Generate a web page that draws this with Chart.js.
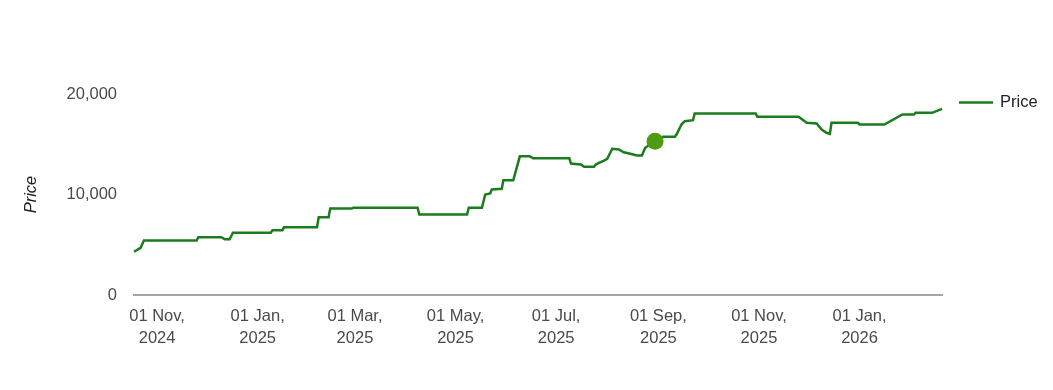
<!DOCTYPE html>
<html>
<head>
<meta charset="utf-8">
<title>Price</title>
<script src="https://cdn.jsdelivr.net/npm/chart.js@4.4.1/dist/chart.umd.min.js"></script>
<style>
  html, body { margin: 0; padding: 0; background: #fff; }
  #wrap { width: 1053px; height: 390px; position: relative; }
</style>
</head>
<body>
<div id="wrap"><canvas id="priceChart"></canvas></div>
<script>
// price history
const dates = [
  '2024-10-18', '2024-10-22', '2024-10-24', '2024-11-25', '2024-11-26', '2024-12-10',
  '2024-12-12', '2024-12-15', '2024-12-17', '2025-01-09', '2025-01-10', '2025-01-16',
  '2025-01-17', '2025-02-06', '2025-02-07', '2025-02-13', '2025-02-14', '2025-02-27',
  '2025-02-28', '2025-04-08', '2025-04-09', '2025-05-08', '2025-05-09', '2025-05-17',
  '2025-05-19', '2025-05-22', '2025-05-23', '2025-05-29', '2025-05-30', '2025-06-05',
  '2025-06-09', '2025-06-15', '2025-06-17', '2025-07-09', '2025-07-10', '2025-07-16',
  '2025-07-18', '2025-07-24', '2025-07-25', '2025-07-27', '2025-07-30', '2025-08-01',
  '2025-08-04', '2025-08-08', '2025-08-11', '2025-08-15', '2025-08-19', '2025-08-22',
  '2025-08-24', '2025-08-30', '2025-09-04', '2025-09-11', '2025-09-12', '2025-09-15',
  '2025-09-17', '2025-09-22', '2025-09-23', '2025-10-30', '2025-10-31', '2025-11-25',
  '2025-11-30', '2025-12-06', '2025-12-09', '2025-12-12', '2025-12-14', '2025-12-15',
  '2025-12-31', '2026-01-01', '2026-01-16', '2026-01-27', '2026-02-03', '2026-02-04',
  '2026-02-14', '2026-02-20'
];
const prices = [
  4300, 4700, 5420, 5420, 5750, 5750,
  5550, 5550, 6190, 6190, 6450, 6450,
  6750, 6750, 7740, 7740, 8600, 8600,
  8680, 8680, 8000, 8000, 8680, 8680,
  10000, 10100, 10500, 10560, 11420, 11420,
  13800, 13800, 13600, 13600, 13080, 12980,
  12750, 12750, 12980, 13150, 13380, 13550,
  14550, 14480, 14200, 14050, 13880, 13880,
  14650, 15300, 15740, 15740, 15970, 16960,
  17290, 17390, 18060, 18060, 17730, 17730,
  17130, 17060, 16470, 16140, 16040, 17130,
  17130, 16960, 16960, 17960, 17960, 18130,
  18130, 18520
];
const highlightDate = '2025-08-30';

const tickDates = ['2024-11-01', '2025-01-01', '2025-03-01', '2025-05-01',
                   '2025-07-01', '2025-09-01', '2025-11-01', '2026-01-01'];
const tickLabels = [
  ['01 Nov,', '2024'], ['01 Jan,', '2025'], ['01 Mar,', '2025'], ['01 May,', '2025'],
  ['01 Jul,', '2025'], ['01 Sep,', '2025'], ['01 Nov,', '2025'], ['01 Jan,', '2026']
];
const yTicks = [0, 10000, 20000];

function toTime(s) {
  let p = s.split('-');
  return Date.UTC(Number(p[0]), Number(p[1]) - 1, Number(p[2]));
}

const points = dates.map((d, i) => ({ x: toTime(d), y: prices[i] }));

Chart.defaults.font.family = '"Liberation Sans", Arial, sans-serif';
Chart.defaults.font.size = 16.5;

// simple legend at the right: short line + label
const legendLine = {
  id: 'legendLine',
  afterDraw(chart) {
    const ds = chart.data.datasets[0];
    const ctx = chart.ctx;
    const x = chart.chartArea.right + 17;
    const y = chart.chartArea.top + 8.5;
    ctx.save();
    ctx.strokeStyle = ds.borderColor;
    ctx.lineWidth = 2.5;
    ctx.beginPath();
    ctx.moveTo(x, y);
    ctx.lineTo(x + 34, y);
    ctx.stroke();
    ctx.fillStyle = '#222';
    ctx.font = '16.5px "Liberation Sans", Arial, sans-serif';
    ctx.textBaseline = 'middle';
    ctx.fillText(ds.label, x + 41, y);
    ctx.restore();
  }
};

new Chart(document.getElementById('priceChart'), {
  type: 'line',
  data: {
    datasets: [{
      label: 'Price',
      data: points,
      borderColor: '#1b7c1b',
      borderWidth: 2.5,
      tension: 0,
      fill: false,
      clip: false,
      pointRadius: ctx => dates[ctx.dataIndex] === highlightDate ? 8.5 : 0,
      pointHoverRadius: ctx => dates[ctx.dataIndex] === highlightDate ? 8.5 : 0,
      pointBackgroundColor: '#4f9b12',
      pointBorderColor: '#4f9b12',
      pointBorderWidth: 0
    }]
  },
  options: {
    responsive: true,
    maintainAspectRatio: false,
    animation: false,
    layout: { padding: { top: 94, right: 111, left: 0, bottom: 0 } },
    plugins: {
      legend: { display: false },
      tooltip: { enabled: false }
    },
    scales: {
      x: {
        type: 'linear',
        min: toTime(dates[0]),
        max: toTime(dates[dates.length - 1]),
        afterBuildTicks: scale => {
          scale.ticks = tickDates.map(d => ({ value: toTime(d) }));
        },
        afterFit: scale => { scale.height = 95; },
        grid: { display: false, drawTicks: false },
        border: { display: true, color: '#a3a3a3', width: 2 },
        ticks: {
          autoSkip: false,
          maxRotation: 0,
          padding: 11,
          color: '#4a4a4a',
          font: { size: 16.5, lineHeight: 1.3 },
          callback: (value, index) => tickLabels[index]
        }
      },
      y: {
        min: 0,
        max: 20000,
        afterBuildTicks: scale => {
          scale.ticks = yTicks.map(v => ({ value: v }));
        },
        afterFit: scale => { scale.width = 134; },
        grid: { display: false, drawTicks: false },
        border: { display: false },
        ticks: {
          padding: 17,
          color: '#4a4a4a',
          callback: value => value.toLocaleString('en-US')
        },
        title: {
          display: true,
          text: 'Price',
          color: '#222',
          padding: { top: 22, bottom: 0 },
          font: { size: 16.5, style: 'italic' }
        }
      }
    }
  },
  plugins: [legendLine]
});
</script>
</body>
</html>
